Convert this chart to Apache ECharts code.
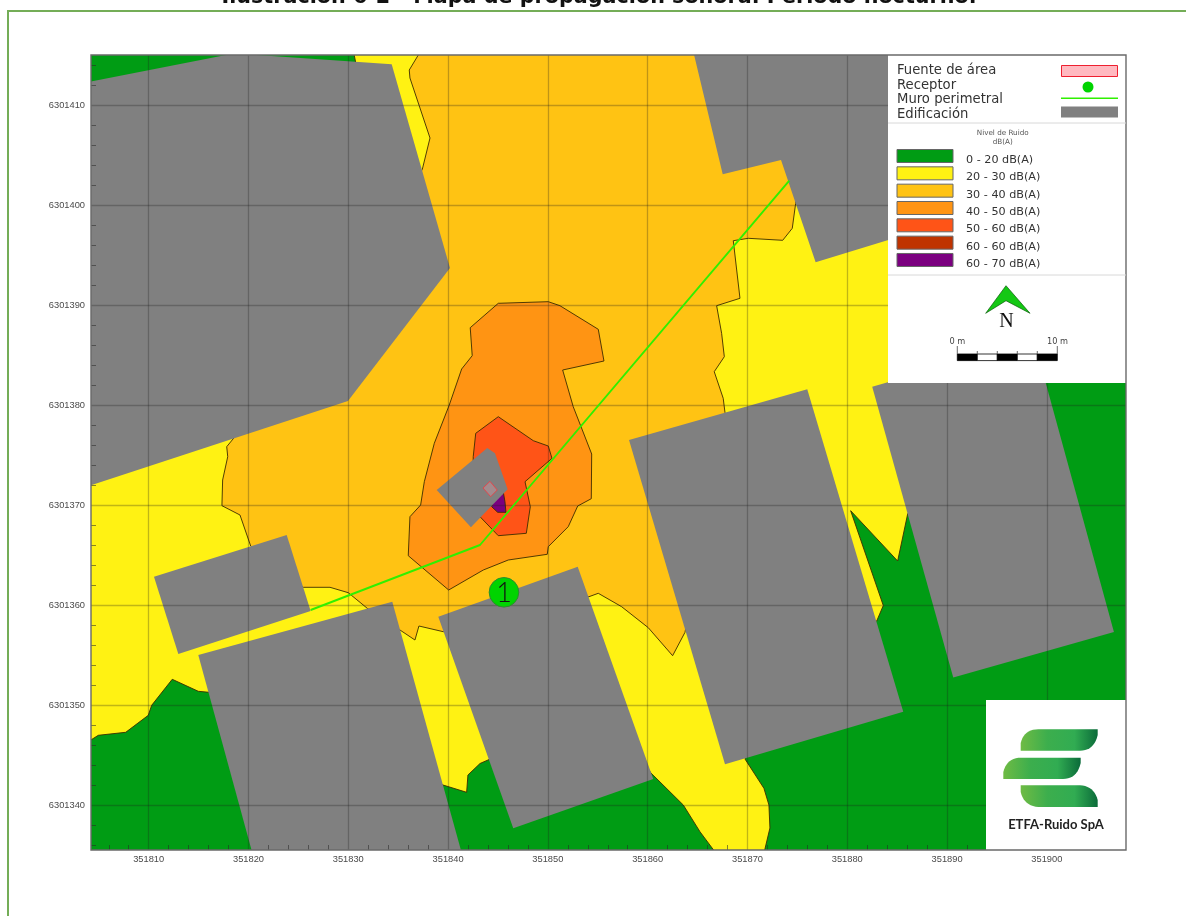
<!DOCTYPE html>
<html><head><meta charset="utf-8">
<style>html,body{margin:0;padding:0;background:#fff}#c{width:1186px;height:916px}</style>
<script src="https://cdn.jsdelivr.net/npm/echarts@6/dist/echarts.min.js"></script>
</head><body><div id="c"></div>
<script>
// Map origin; all vertices below are metres east / north of it
const X0 = 351800, Y0 = 6301300;
const X_TICKS = [351810,351820,351830,351840,351850,351860,351870,351880,351890,351900];
const Y_TICKS = [6301340,6301350,6301360,6301370,6301380,6301390,6301400,6301410];
const X_MINOR = [351806,351808,351812,351814,351816,351818,351822,351824,351826,351828,351832,351834,351836,351838,351842,351844,351846,351848,351852,351854,351856,351858,351862,351864,351866,351868,351872,351874,351876,351878,351882,351884,351886,351888,351892,351894,351896,351898,351902,351904,351906];
const Y_MINOR = [6301336,6301338,6301342,6301344,6301346,6301348,6301352,6301354,6301356,6301358,6301362,6301364,6301366,6301368,6301372,6301374,6301376,6301378,6301382,6301384,6301386,6301388,6301392,6301394,6301396,6301398,6301402,6301404,6301406,6301408,6301412,6301414];

const LEVEL_LABELS = ['0 - 20 dB(A)','20 - 30 dB(A)','30 - 40 dB(A)','40 - 50 dB(A)','50 - 60 dB(A)','60 - 60 dB(A)','60 - 70 dB(A)'];
const LEVEL_COLORS = ['#009c14','#fff213','#ffc313','#ff9413','#ff5417','#bf3300','#7b0080'];
const SOURCE_LABELS = ['Fuente de área','Receptor','Muro perimetral','Edificación'];
const TITLE = 'Ilustración 6-2 - Mapa de propagación sonora. Período nocturno.';

const GREEN_NW = [[3,115.5],[30.5,115.5],[30.8,114],[25.2,110.5],[3,105.5]];
const GREEN_S = [[4,46.4],[4.95,47],[7.7,47.3],[9.96,49],[10.3,50],[12.36,52.6],[14.97,51.4],[16.04,51.3],[25.16,48.53],[39.49,42.03],[41.86,41.3],[41.99,43.03],[43.2,44.18],[44,44.53],[55.22,50.53],[60.33,43.23],[63.57,40.03],[65.24,37.36],[67,35],[71.6,35],[72.25,37.73],[72.15,40.03],[71.65,41.7],[69.75,44.63],[75.26,55.53],[82.95,58.43],[83.61,59.98],[80.34,69.46],[85.05,64.43],[86.05,69.13],[95.3,85.53],[109,85.53],[109,34],[3,34],[3,46.4]];
const ZONE_30_40 = [[37.3,115.5],[36.11,113.53],[36.18,112.73],[38.19,106.73],[37.42,103.6],[30.17,90.53],[18.45,76.63],[17.82,75.86],[17.92,74.86],[17.41,72.53],[17.34,69.96],[19.15,69.03],[20.22,65.93],[25.49,61.8],[28.17,61.8],[30,61.26],[31.9,59.7],[35.18,57.53],[36.68,56.53],[37.08,57.93],[39.52,57.36],[54.12,60.86],[55.05,61.2],[57.39,59.86],[60.06,57.76],[62.5,54.96],[63.74,57.3],[67.75,79.26],[67.57,80.7],[66.67,83.36],[67.68,84.86],[67.41,87.2],[66.91,89.96],[69.25,90.7],[68.58,96.46],[70.08,96.7],[73.53,96.5],[74.49,97.7],[74.83,100.2],[75.26,110.53],[75.3,115.5]];
const ZONE_40_50 = [[45.03,90.2],[50.04,90.36],[51.21,89.96],[55.05,87.6],[55.62,84.43],[51.48,83.53],[52.54,79.86],[54.39,75.13],[54.35,70.66],[52.99,69.93],[52.04,67.86],[50.04,65.86],[49.94,65.1],[46.03,64.53],[43.53,63.53],[40.06,61.53],[36.01,64.96],[36.18,68.86],[37.25,70.03],[37.62,72.36],[38.62,76.2],[40.12,80.03],[41.36,83.63],[42.42,84.96],[42.22,87.76]];
const ZONE_50_60 = [[45.03,78.86],[48.54,76.46],[50.04,75.93],[50.41,74.7],[47.71,72.36],[48.24,69.86],[47.84,67.2],[45.03,66.96],[43.2,68.86],[42.49,72.53],[42.52,74.86],[42.77,77.2]];
const ZONE_60_70 = [[45.5,71.53],[45.7,70.36],[45.8,69.3],[44.97,69.3],[44.37,69.86],[44.7,71.03]];

const BUILDING_NW = [[4,112.33],[17.75,115.03],[20.85,115.03],[34.35,114.1],[40.19,93.73],[29.97,80.43],[4,71.93]];
const BUILDING_SW = [[14.97,55.03],[34.41,60.36],[41.43,35],[20.45,35]];
const BUILDING_S = [[39.02,58.86],[52.99,63.86],[60.56,42.63],[46.53,37.7]];
const BUILDING_SE = [[58.13,76.53],[75.99,81.6],[85.61,49.36],[67.75,44.1]];
const BUILDING_E = [[82.5,81.86],[98.71,86.53],[106.72,57.33],[90.62,52.78]];
const BUILDING_W = [[10.53,62.86],[23.83,67.03],[26.23,59.43],[12.97,55.13]];
const BUILDING_NE = [[64.54,115.5],[67.52,103.1],[73.36,104.53],[76.83,94.3],[84.11,96.53],[85.28,96.93],[85.3,115.5]];
const BUILDING_C = [[38.86,71.53],[43.93,75.73],[44.7,75.2],[45.97,71.6],[42.29,67.8]];

const SOURCE_AREA = [[44.2,72.4],[44.93,71.53],[44.27,70.86],[43.5,71.73]];
const WALL = [[26.23,59.53],[43.2,66.03],[74.19,102.46]];
const RECEPTOR = [45.6,61.3];

const OUT = {stroke:'#3d2c00',lineWidth:0.9};
const GREY = '#808080';
const layers = [
  {pts:GREEN_NW,fill:LEVEL_COLORS[0],outline:true},
  {pts:GREEN_S,fill:LEVEL_COLORS[0],outline:true},
  {pts:ZONE_30_40,fill:LEVEL_COLORS[2],outline:true},
  {pts:ZONE_40_50,fill:LEVEL_COLORS[3],outline:true},
  {pts:ZONE_50_60,fill:LEVEL_COLORS[4],outline:true},
  {pts:ZONE_60_70,fill:LEVEL_COLORS[6],outline:true},
  {pts:BUILDING_NW,fill:GREY},{pts:BUILDING_SW,fill:GREY},{pts:BUILDING_S,fill:GREY},
  {pts:BUILDING_SE,fill:GREY},{pts:BUILDING_E,fill:GREY},{pts:BUILDING_W,fill:GREY},
  {pts:BUILDING_NE,fill:GREY},{pts:BUILDING_C,fill:GREY},
  {pts:SOURCE_AREA,fill:'rgba(255,170,180,0.28)',stroke:'#e0474c'}
];
const toMap = p => [X0+p[0], Y0+p[1]];

const g = [];
const Z = 100;
function rect(x,y,w,h,fill,stroke,lw){g.push({type:'rect',z:Z,shape:{x,y,width:w,height:h},style:{fill:fill||'transparent',stroke:stroke||null,lineWidth:lw||0}});}
function line(x1,y1,x2,y2,stroke,lw){g.push({type:'line',z:Z+1,shape:{x1,y1,x2,y2},style:{stroke,lineWidth:lw}});}
function txt(t,x,y,font,fill,align){g.push({type:'text',z:Z+2,style:{text:t,x,y,font,fill:fill||'#222',align:align||'left',verticalAlign:'middle'}});}

// Outer page frame and title
g.push({type:'polyline',z:Z,shape:{points:[[8,916],[8,11],[1186,11]]},style:{stroke:'#74ad57',lineWidth:2,fill:null}});
txt(TITLE,599,-2,'bold 20.7px "DejaVu Sans"','#111','center');

// Legend panel
rect(888,55,238,328,'#fff');
line(888,123,1126,123,'#d8d8d8',1);
line(888,275,1126,275,'#d8d8d8',1);
const topY=[70.5,86,100,115];
SOURCE_LABELS.forEach((t,i)=>txt(t,897,topY[i],'13.2px "DejaVu Sans"','#333'));
rect(1061.5,65.5,56,11,'#ffb9c0','#ee2030',1);
g.push({type:'circle',z:Z+1,shape:{cx:1088,cy:87,r:5.5},style:{fill:'#00d400'}});
line(1061,98.3,1118,98.3,'#2ff000',1.5);
rect(1061,106.5,57,11,GREY);
txt('Nivel de Ruido',1002.7,132.7,'7.2px "DejaVu Sans"','#555','center');
txt('dB(A)',1002.7,142,'7.2px "DejaVu Sans"','#555','center');
LEVEL_LABELS.forEach((t,i)=>{
  const y=149.5+i*17.33;
  rect(897,y,56,13,LEVEL_COLORS[i],'#666',1);
  txt(t,966,y+10.6,'11.2px "DejaVu Sans"','#333');
});
// North arrow and scale bar
g.push({type:'polygon',z:Z+1,shape:{points:[[1006,285.7],[1030,313.3],[1006,300.7],[985.7,313.3]]},style:{fill:'#14c814',stroke:'#0a5a0a',lineWidth:0.7}});
txt('N',1006.5,322,'20px "Liberation Serif"','#111','center');
[0,1,2,3,4].forEach(i=>rect(957.3+i*20,354,20,6.6,i%2?'#fff':'#000','#000',0.8));
[1,2,3,4].forEach(i=>line(957.3+i*20,351,957.3+i*20,354,'#444',0.8));
line(957.3,346,957.3,354,'#444',0.8);line(1057.3,346,1057.3,354,'#444',0.8);
txt('0 m',957.3,342,'8.2px "DejaVu Sans"','#444','center');
txt('10 m',1057.6,342,'8.2px "DejaVu Sans"','#444','center');

// Logo panel
rect(986,700,140,150,'#fff');
const logoGrad={type:'linear',x:0,y:0,x2:1,y2:0,colorStops:[{offset:0,color:'#6fbb44'},{offset:0.35,color:'#3cae4d'},{offset:0.7,color:'#31ac52'},{offset:1,color:'#0b6b3a'}]};
function qCurve(a){const r=[];for(let k=0;k<=10;k++){const t=k/10,u=1-t;r.push([u*u*a[0]+2*u*t*a[2]+t*t*a[4],u*u*a[1]+2*u*t*a[3]+t*t*a[5]]);}return r;}
const logoBars=[
  [[1020.7,750.7],...qCurve([1020.7,743,1024,729.3,1038.3,729.3]),[1097.7,729.3],...qCurve([1097.7,735,1094,750.7,1080,750.7])],
  [[1003.3,779],...qCurve([1003.3,772,1007,757.7,1021,757.7]),[1080.7,757.7],...qCurve([1080.7,763,1077,779,1063,779])],
  [[1020.7,785.3],...qCurve([1080,785.3,1094,786,1097.7,800]),[1097.7,807],...qCurve([1038.3,807,1024,806,1020.7,792])]
];
logoBars.forEach(points=>g.push({type:'polygon',z:Z+1,shape:{points},style:{fill:logoGrad}}));
txt('ETFA-Ruido SpA',1056,825.3,'bold 13px "Lato"','#222','center');
// Plot frame
rect(91,55,1035,795,null,'#6a6a6a',1.4);

const xExt=[351804.22,351907.93], yExt=[6301335.53,6301415.03];
const lblStyle={fontFamily:'"Liberation Sans"',fontSize:9.3,color:'#4a4a4a'};
const gridStyle={color:'rgba(30,30,30,0.28)',width:1.3};
const majorX={type:'value',min:xExt[0],max:xExt[1],position:'bottom',z:3,
  axisLine:{show:false},axisTick:{show:false,customValues:X_TICKS},
  axisLabel:{...lblStyle,customValues:X_TICKS,margin:5,formatter:v=>String(v)},
  splitLine:{show:true,lineStyle:gridStyle}};
const minorX={type:'value',min:xExt[0],max:xExt[1],position:'bottom',z:3,
  axisLine:{show:false},axisLabel:{show:false},splitLine:{show:false},
  axisTick:{show:true,inside:true,length:5,customValues:X_MINOR,lineStyle:{color:'rgba(40,40,40,0.55)',width:1}}};
const majorY={type:'value',min:yExt[0],max:yExt[1],position:'left',z:3,
  axisLine:{show:false},axisTick:{show:false,customValues:Y_TICKS},
  axisLabel:{...lblStyle,customValues:Y_TICKS,margin:6,formatter:v=>String(v)},
  splitLine:{show:true,lineStyle:gridStyle}};
const minorY={type:'value',min:yExt[0],max:yExt[1],position:'left',z:3,
  axisLine:{show:false},axisLabel:{show:false},splitLine:{show:false},
  axisTick:{show:true,inside:true,length:5,customValues:Y_MINOR,lineStyle:{color:'rgba(40,40,40,0.55)',width:1}}};

const chart=echarts.init(document.getElementById('c'),null,{renderer:'canvas'});
chart.setOption({
  animation:false,
  grid:{left:91,top:55,width:1035,height:795,show:true,backgroundColor:LEVEL_COLORS[1],borderWidth:0,containLabel:false},
  xAxis:[majorX,minorX],
  yAxis:[majorY,minorY],
  graphic:{elements:g},
  series:[
    {type:'custom',name:'Niveles y edificios',coordinateSystem:'cartesian2d',z:2,clip:true,silent:true,
     data:layers.map((l,i)=>{const m=toMap(l.pts[0]);return [m[0],m[1],i];}),
     encode:{x:0,y:1},
     renderItem:(p,api)=>{
       const l=layers[api.value(2)];
       return {type:'polygon',shape:{points:l.pts.map(v=>api.coord(toMap(v)))},
         style:{fill:l.fill,stroke:l.stroke||(l.outline?OUT.stroke:null),lineWidth:l.stroke?1:(l.outline?OUT.lineWidth:0)}};
     }},
    {type:'line',name:'Muro perimetral',z:4,silent:true,showSymbol:false,symbol:'none',
     data:WALL.map(toMap),lineStyle:{color:'#2ff000',width:1.9}},
    {type:'custom',name:'Receptor',coordinateSystem:'cartesian2d',z:5,silent:true,
     data:[[...toMap(RECEPTOR),'1']],encode:{x:0,y:1},
     renderItem:(p,api)=>{
       const c=api.coord([api.value(0),api.value(1)]);
       return {type:'group',children:[
         {type:'circle',shape:{cx:c[0],cy:c[1],r:14.8},style:{fill:'#00d400',stroke:'#2e8b2e',lineWidth:1}},
         {type:'text',style:{text:'1',x:c[0],y:c[1]+0.5,font:'300 27px "Lato"',fill:'#111',align:'center',verticalAlign:'middle'}}
       ]};
     }}
  ]
});
</script></body></html>
